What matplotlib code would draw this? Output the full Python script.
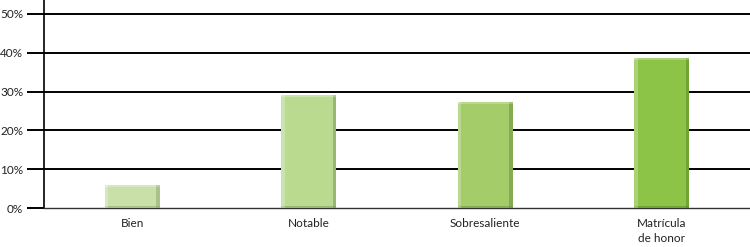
import numpy as np
import matplotlib
matplotlib.use("Agg")
import matplotlib.pyplot as plt
from matplotlib.ticker import PercentFormatter

plt.rcParams['font.family'] = ['Lato', 'DejaVu Sans']

categories = ["Bien", "Notable", "Sobresaliente", "Matrícula\nde honor"]
values = [0.059, 0.291, 0.273, 0.387]
colors = ["#c9e1a9", "#b9da8f", "#a4cd69", "#8cc447"]
edge_colors = ["#8fa774", "#7f9b5e", "#6f9141", "#5a8a27"]
yticks = [0, 0.1, 0.2, 0.3, 0.4, 0.5]

fig = plt.figure(figsize=(7.5, 2.47), dpi=100)
ax = fig.add_axes([44 / 750, 39 / 247, 706 / 750, 208 / 247])

x = np.arange(len(categories))
w = 0.31
ax.bar(x, values, width=w, color=colors, zorder=3)
# simple bevel: darker strip right and bottom, lighter strip left and top
for xi, v, ec in zip(x, values, edge_colors):
    ax.bar(xi + w / 2 - 0.01, v, width=0.02, color=ec, alpha=0.55, zorder=4)
    ax.bar(xi, 0.005, width=w, color=ec, alpha=0.55, zorder=4)
    ax.bar(xi - w / 2 + 0.01, v, width=0.02, color="white", alpha=0.25, zorder=4)
    ax.bar(xi, 0.005, bottom=v - 0.005, width=w, color="white", alpha=0.25, zorder=4)

ax.set_xlim(-0.5, len(categories) - 0.5)
ax.set_ylim(0, 0.536)
ax.set_yticks(yticks)
ax.yaxis.set_major_formatter(PercentFormatter(1.0, decimals=0))
ax.set_xticks(x)
ax.set_xticklabels(categories, fontsize=8.5, color="#222222", linespacing=1.5)
ax.tick_params(axis='x', length=0, pad=7)
ax.tick_params(axis='y', length=12, width=1.4, color="black", labelsize=8.5,
               labelcolor="#222222", pad=3)

for t in yticks[1:]:
    ax.axhline(t, color="black", lw=1.4, zorder=1)

for s in ["top", "right"]:
    ax.spines[s].set_visible(False)
ax.spines["left"].set_linewidth(1.2)
ax.spines["bottom"].set_linewidth(1.0)
ax.spines["bottom"].set_color("#333333")

fig.savefig("out.png", dpi=100)
